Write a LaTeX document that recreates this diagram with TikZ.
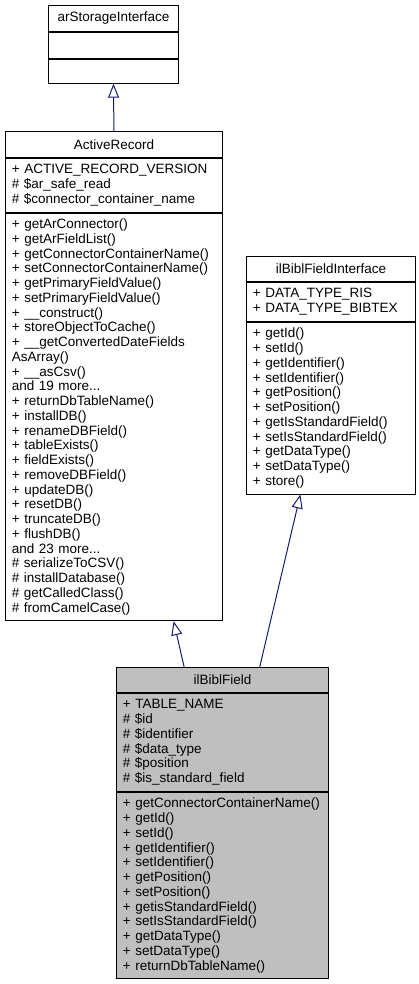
\documentclass[tikz,border=0pt]{standalone}
\usepackage{fontspec}
\setmainfont{Liberation Sans}
\definecolor{edgeblue}{RGB}{25, 25, 112}
\definecolor{classgray}{RGB}{191, 191, 191}
\usetikzlibrary{arrows.meta, positioning, calc}
\hyphenpenalty=10000
\exhyphenpenalty=10000

\tikzset{
  classpart/.style={draw=black, line width=0.9pt, fill=white, anchor=north, inner xsep=6.5pt, inner ysep=0pt, align=left, font=\fontsize{13.5}{14.75}\selectfont},
  classtitle/.style={classpart, align=center, anchor=north west},
  inherit/.style={draw=edgeblue, line width=1pt, -{Triangle[open, length=14pt, width=11pt]}}
}

\begin{document}
\begin{tikzpicture}[x=1pt, y=-1pt]
  \useasboundingbox (0, 0) rectangle (419, 984);

  % arStorageInterface
  \node[classtitle, text width=117pt, minimum height=26pt] (storeTitle) at (48, 5) {arStorageInterface};
  \node[classpart, text width=117pt, minimum height=26pt, below=0pt of storeTitle] (storeAttrs) {};
  \node[classpart, text width=117pt, minimum height=24pt, below=0pt of storeAttrs] (storeOps) {};

  % ActiveRecord
  \node[classtitle, text width=204pt, minimum height=26pt] (recTitle) at (5, 131) {ActiveRecord};
  \node[classpart, text width=204pt, minimum height=53.75pt, below=0pt of recTitle] (recAttrs) {
    + ACTIVE\_RECORD\_VERSION\\\# \$ar\_safe\_read\\\# \$connector\_container\_name
  };
  \node[classpart, text width=204pt, minimum height=407.75pt, below=0pt of recAttrs] (recOps) {
    + getArConnector()\\+ getArFieldList()\\+ getConnectorContainerName()\\+ setConnectorContainerName()\\
    + getPrimaryFieldValue()\\+ setPrimaryFieldValue()\\+ \_\_construct()\\+ storeObjectToCache()\\
    + \_\_getConvertedDateFields\\AsArray()\\+ \_\_asCsv()\\and 19 more...\\
    + returnDbTableName()\\+ installDB()\\+ renameDBField()\\+ tableExists()\\+ fieldExists()\\
    + removeDBField()\\+ updateDB()\\+ resetDB()\\+ truncateDB()\\+ flushDB()\\and 23 more...\\
    \# serializeToCSV()\\\# installDatabase()\\\# getCalledClass()\\\# fromCamelCase()
  };

  % ilBiblFieldInterface
  \node[classtitle, text width=156pt, minimum height=25pt] (ifaceTitle) at (246, 256) {ilBiblFieldInterface};
  \node[classpart, text width=156pt, minimum height=39pt, below=0pt of ifaceTitle] (ifaceAttrs) {
    + DATA\_TYPE\_RIS\\+ DATA\_TYPE\_BIBTEX
  };
  \node[classpart, text width=156pt, minimum height=171.75pt, below=0pt of ifaceAttrs] (ifaceOps) {
    + getId()\\+ setId()\\+ getIdentifier()\\+ setIdentifier()\\+ getPosition()\\+ setPosition()\\
    + getIsStandardField()\\+ setIsStandardField()\\+ getDataType()\\+ setDataType()\\+ store()
  };

  % ilBiblField
  \node[classtitle, fill=classgray, text width=199pt, minimum height=25pt] (fieldTitle) at (116, 667) {ilBiblField};
  \node[classpart, fill=classgray, text width=199pt, minimum height=98pt, below=0pt of fieldTitle] (fieldAttrs) {
    + TABLE\_NAME\\\# \$id\\\# \$identifier\\\# \$data\_type\\\# \$position\\\# \$is\_standard\_field
  };
  \node[classpart, fill=classgray, text width=199pt, minimum height=186.5pt, below=0pt of fieldAttrs] (fieldOps) {
    + getConnectorContainerName()\\+ getId()\\+ setId()\\+ getIdentifier()\\+ setIdentifier()\\
    + getPosition()\\+ setPosition()\\+ getisStandardField()\\+ setIsStandardField()\\
    + getDataType()\\+ setDataType()\\+ returnDbTableName()
  };

  % Inheritance
  \draw[inherit] (recTitle.north) -- (storeOps.south);
  \draw[inherit] ($(fieldTitle.north west)!0.32!(fieldTitle.north east)$) -- ($(recOps.south west)!0.774!(recOps.south east)$);
  \draw[inherit] ($(fieldTitle.north west)!0.675!(fieldTitle.north east)$) -- ($(ifaceOps.south west)!0.32!(ifaceOps.south east)$);
\end{tikzpicture}
\end{document}
